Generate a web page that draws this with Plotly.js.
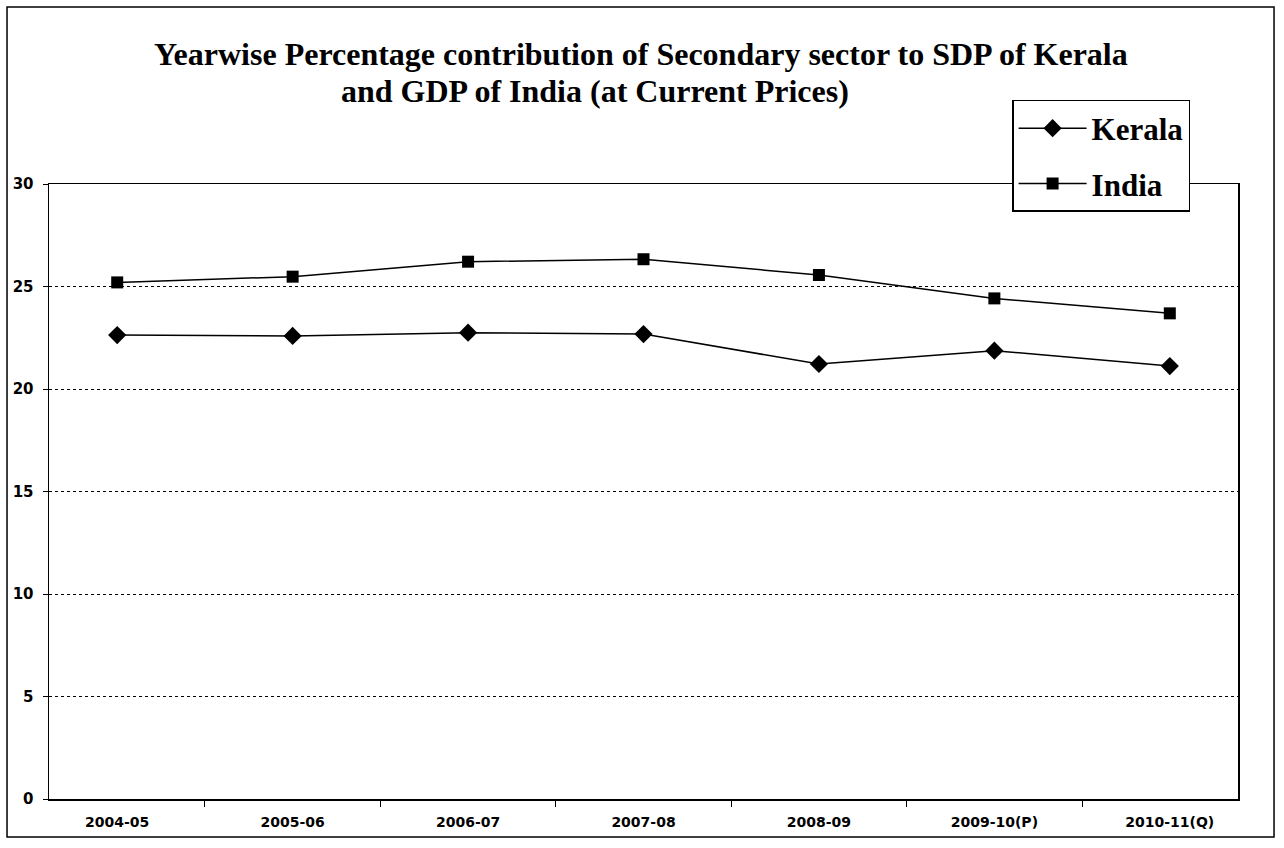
<!DOCTYPE html>
<html>
<head>
<meta charset="utf-8">
<script src="https://cdn.plot.ly/plotly-3.0.1.min.js"></script>
<style>
  html, body { margin: 0; padding: 0; background: #ffffff; }
  #chart { width: 1284px; height: 848px; }
</style>
</head>
<body>
<div id="chart"></div>
<script>
// ---- data ----
const years = ["2004-05", "2005-06", "2006-07", "2007-08", "2008-09", "2009-10(P)", "2010-11(Q)"];
const kerala = [22.63, 22.59, 22.75, 22.68, 21.22, 21.87, 21.12];
const india = [25.20, 25.48, 26.21, 26.33, 25.56, 24.42, 23.69];
const yTicks = [0, 5, 10, 15, 20, 25, 30];
const titleLine1 = "Yearwise Percentage contribution of Secondary sector to SDP of Kerala";
const titleLine2 = "and GDP of India (at Current Prices)";

const serif = "Liberation Serif";
const sans = "DejaVu Sans";

const traces = [
  {
    x: years, y: kerala, name: "Kerala", type: "scatter", mode: "lines+markers",
    legendgroup: "k",
    line: { color: "#000000", width: 1.5 },
    marker: { symbol: "diamond", size: 14, color: "#000000" }
  },
  {
    x: years, y: india, name: "India", type: "scatter", mode: "lines+markers",
    legendgroup: "i",
    line: { color: "#000000", width: 1.5 },
    marker: { symbol: "square", size: 12, color: "#000000" }
  }
];

const layout = {
  width: 1284, height: 848, autosize: false,
  paper_bgcolor: "#ffffff", plot_bgcolor: "#ffffff",
  margin: { l: 49, r: 46, t: 184, b: 49 },
  showlegend: true,
  legend: {
    x: 0.81, y: 1.1366, xanchor: "left", yanchor: "top",
    bgcolor: "#ffffff", bordercolor: "#000000", borderwidth: 1.5,
    font: { family: serif, size: 31, color: "#000000", weight: "bold" },
    tracegroupgap: 12, itemwidth: 68
  },
  xaxis: {
    type: "category",
    showline: true, linecolor: "#000000", linewidth: 1.5, mirror: true,
    showgrid: false, zeroline: false,
    ticks: "outside", ticklen: 6, tickcolor: "#000000", tickson: "boundaries",
    ticklabelstandoff: 10,
    tickfont: { family: sans, size: 14, color: "#000000", weight: "bold" },
    fixedrange: true
  },
  yaxis: {
    range: [0, 30], tickvals: yTicks, ticktext: yTicks.map(String),
    showline: true, linecolor: "#000000", linewidth: 1.5, mirror: true,
    showgrid: true, gridcolor: "#000000", gridwidth: 1, griddash: "dot",
    zeroline: false,
    ticks: "outside", ticklen: 5, tickcolor: "#000000",
    ticklabelstandoff: 6,
    tickfont: { family: sans, size: 15, color: "#000000", weight: "bold" },
    fixedrange: true
  },
  annotations: [
    { text: titleLine1, xref: "paper", yref: "paper", x: 0.498, y: 1.2114,
      xanchor: "center", yanchor: "middle", showarrow: false,
      font: { family: serif, size: 32, color: "#000000", weight: "bold" } },
    { text: titleLine2, xref: "paper", yref: "paper", x: 0.459, y: 1.1505,
      xanchor: "center", yanchor: "middle", showarrow: false,
      font: { family: serif, size: 32, color: "#000000", weight: "bold" } }
  ],
  shapes: [
    { type: "rect", xref: "paper", yref: "paper",
      x0: -0.0353, x1: 1.0303, y0: -0.0618, y1: 1.2878,
      line: { color: "#000000", width: 1.5 }, layer: "below" }
  ]
};

Plotly.newPlot("chart", traces, layout, { displayModeBar: false, staticPlot: true });
</script>
</body>
</html>
